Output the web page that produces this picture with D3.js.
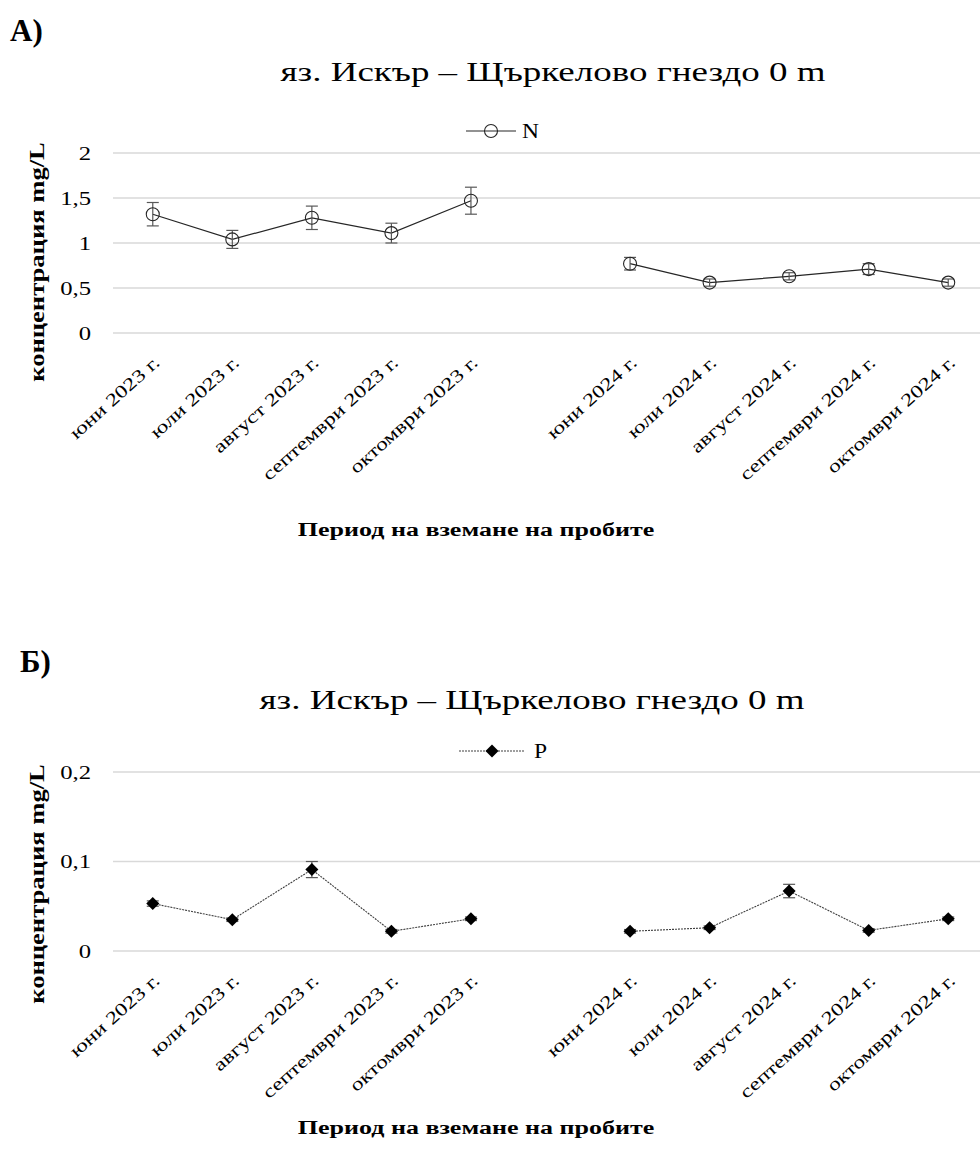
<!DOCTYPE html>
<html>
<head>
<meta charset="utf-8">
<script src="https://cdn.jsdelivr.net/npm/d3@7"></script>
<style>
  body { margin: 0; background: #fff; }
</style>
</head>
<body>
<div id="chart"></div>
<script>
(function () {
  'use strict';

  var categories = ['юни 2023 г.', 'юли 2023 г.', 'август 2023 г.', 'септември 2023 г.', 'октомври 2023 г.', '',
    'юни 2024 г.', 'юли 2024 г.', 'август 2024 г.', 'септември 2024 г.', 'октомври 2024 г.'];

  var nValues = [1.32, 1.04, 1.28, 1.11, 1.47, null, 0.77, 0.56, 0.63, 0.71, 0.56];
  var nErrors = [0.13, 0.10, 0.13, 0.11, 0.15, null, 0.07, 0.04, 0.04, 0.06, 0.04];
  var nTicks = [0, 0.5, 1, 1.5, 2];

  var pValues = [0.053, 0.035, 0.091, 0.022, 0.036, null, 0.022, 0.026, 0.067, 0.023, 0.036];
  var pErrors = [0.003, 0.002, 0.009, 0.002, 0.002, null, 0.002, 0.002, 0.0075, 0.002, 0.002];
  var pTicks = [0, 0.1, 0.2];

  var chartTitle = 'яз. Искър – Щъркелово гнездо 0 m',
      yTitle = 'концентрация mg/L',
      xTitle = 'Период на вземане на пробите';

  var FONT = "'Liberation Serif', 'DejaVu Serif', serif";
  var width = 980, height = 1160;
  // the source text is drawn wide along its baseline
  var STRETCH = 'scale(1.37,1)';

  var svg = d3.select('#chart').append('svg')
      .attr('width', width)
      .attr('height', height)
      .attr('font-family', FONT);

  function fmt(d) { return String(d).replace('.', ','); }

  function drawChart(opts) {
    var g = svg.append('g');

    var x = d3.scaleBand()
        .domain(d3.range(categories.length))
        .range([113, 988]);

    var y = d3.scaleLinear()
        .domain([0, d3.max(opts.ticks)])
        .range([opts.plotBottom, opts.plotTop]);

    // panel letter
    g.append('text')
        .attr('x', opts.letterX)
        .attr('y', opts.letterY)
        .attr('font-size', 31)
        .attr('font-weight', 'bold')
        .text(opts.letter);

    g.append('text')
        .attr('transform', 'translate(' + opts.titleX + ',' + opts.titleY + ') ' + STRETCH)
        .attr('text-anchor', 'middle')
        .attr('font-size', 27)
        .text(chartTitle);

    // gridlines
    g.append('g')
        .selectAll('line')
        .data(opts.ticks)
        .enter()
        .append('line')
        .attr('x1', 113)
        .attr('x2', 988)
        .attr('y1', function (d) { return y(d); })
        .attr('y2', function (d) { return y(d); })
        .attr('stroke', '#d9d9d9')
        .attr('stroke-width', 1.5);

    var yAxis = g.append('g')
        .attr('transform', 'translate(91,0)')
        .call(d3.axisLeft(y).tickValues(opts.ticks).tickFormat(fmt).tickSize(0).tickPadding(0))
        .attr('font-family', FONT)
        .attr('font-size', 19);
    yAxis.select('.domain').remove();
    yAxis.selectAll('text')
        .attr('fill', '#000')
        .attr('transform', 'scale(1.3,1)');

    g.append('text')
        .attr('transform', 'translate(' + 44 + ',' + opts.yTitleY + ') rotate(-90) scale(1.33,1)')
        .attr('text-anchor', 'middle')
        .attr('font-size', 20)
        .attr('font-weight', 'bold')
        .text(yTitle);

    var xAxis = g.append('g')
        .attr('transform', 'translate(0,' + opts.plotBottom + ')')
        .call(d3.axisBottom(x).tickFormat(function (i) { return categories[i]; }).tickSize(0))
        .attr('font-family', FONT)
        .attr('font-size', 18);
    xAxis.select('.domain').remove();
    xAxis.selectAll('text')
        .attr('fill', '#000')
        .attr('text-anchor', 'end')
        .attr('dy', 0)
        .attr('y', 0)
        .attr('transform', 'translate(8,31) rotate(-42) scale(1.3,1)');

    g.append('text')
        .attr('transform', 'translate(476,' + opts.xTitleY + ') ' + STRETCH)
        .attr('text-anchor', 'middle')
        .attr('font-size', 19)
        .attr('font-weight', 'bold')
        .text(xTitle);

    var pts = opts.values.map(function (v, i) {
      return {i: i, v: v, e: opts.errors[i]};
    }).filter(function (d) { return d.v != null; });

    var line = d3.line()
        .defined(function (d) { return d != null; })
        .x(function (d, i) { return x(i) + x.bandwidth() / 2; })
        .y(function (d) { return y(d); });

    var cx = function (d) { return x(d.i) + x.bandwidth() / 2; };

    if (opts.marker === 'circle') {
      g.append('path')
          .datum(opts.values)
          .attr('d', line)
          .attr('fill', 'none')
          .attr('stroke', '#262626')
          .attr('stroke-width', 1.2);
    } else {
      g.append('path')
          .datum(opts.values)
          .attr('d', line)
          .attr('fill', 'none')
          .attr('stroke', '#404040')
          .attr('stroke-width', 1.1)
          .attr('stroke-dasharray', '2,1');
    }

    // error bars
    var eb = g.append('g').selectAll('g')
        .data(pts)
        .enter()
        .append('g')
        .attr('stroke', '#595959')
        .attr('stroke-width', 1.2);
    eb.append('line')
        .attr('x1', cx).attr('x2', cx)
        .attr('y1', function (d) { return y(d.v + d.e); })
        .attr('y2', function (d) { return y(d.v - d.e); });
    eb.append('line')
        .attr('x1', function (d) { return cx(d) - 6; })
        .attr('x2', function (d) { return cx(d) + 6; })
        .attr('y1', function (d) { return y(d.v + d.e); })
        .attr('y2', function (d) { return y(d.v + d.e); });
    eb.append('line')
        .attr('x1', function (d) { return cx(d) - 6; })
        .attr('x2', function (d) { return cx(d) + 6; })
        .attr('y1', function (d) { return y(d.v - d.e); })
        .attr('y2', function (d) { return y(d.v - d.e); });

    var markers = g.append('g');
    if (opts.marker === 'circle') {
      markers.selectAll('circle')
          .data(pts)
          .enter()
          .append('circle')
          .attr('cx', cx)
          .attr('cy', function (d) { return y(d.v); })
          .attr('r', 6.5)
          .attr('fill', 'none')
          .attr('stroke', '#262626')
          .attr('stroke-width', 1.1);
    } else {
      markers.selectAll('path')
          .data(pts)
          .enter()
          .append('path')
          .attr('d', d3.symbol().type(d3.symbolSquare).size(85))
          .attr('transform', function (d) { return 'translate(' + cx(d) + ',' + y(d.v) + ') rotate(45)'; })
          .attr('fill', '#000');
    }

    // legend
    var lg = g.append('g').attr('transform', 'translate(0,' + opts.legendY + ')');
    if (opts.marker === 'circle') {
      lg.append('line').attr('x1', 466).attr('x2', 516).attr('stroke', '#262626').attr('stroke-width', 1.2);
      lg.append('circle').attr('cx', 491).attr('r', 6.5).attr('fill', 'none').attr('stroke', '#262626').attr('stroke-width', 1.1);
      lg.append('text').attr('transform', 'translate(522,0) scale(1.12,1)').attr('dy', '0.35em').attr('font-size', 21).text(opts.name);
    } else {
      lg.append('line').attr('x1', 459).attr('x2', 525).attr('stroke', '#404040').attr('stroke-width', 1.1).attr('stroke-dasharray', '2,1');
      lg.append('path').attr('d', d3.symbol().type(d3.symbolSquare).size(85)).attr('transform', 'translate(492,0) rotate(45)').attr('fill', '#000');
      lg.append('text').attr('transform', 'translate(534,0) scale(1.12,1)').attr('dy', '0.35em').attr('font-size', 21).text(opts.name);
    }
  }

  drawChart({
    letter: 'А)', letterX: 10, letterY: 41,
    titleX: 553, titleY: 81, legendY: 131,
    plotTop: 153, plotBottom: 333, yTitleY: 262, xTitleY: 536,
    values: nValues, errors: nErrors, ticks: nTicks,
    marker: 'circle', name: 'N'
  });

  drawChart({
    letter: 'Б)', letterX: 20, letterY: 672,
    titleX: 532, titleY: 709, legendY: 751,
    plotTop: 772, plotBottom: 951, yTitleY: 884, xTitleY: 1134,
    values: pValues, errors: pErrors, ticks: pTicks,
    marker: 'diamond', name: 'P'
  });
}());
</script>
</body>
</html>
